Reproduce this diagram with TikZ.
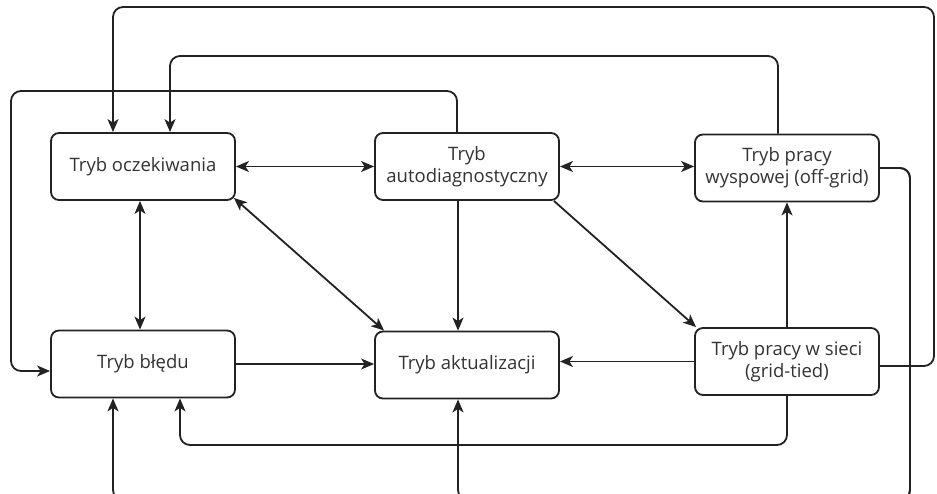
\documentclass[tikz,border=0pt]{standalone}
\usepackage{fontspec}
\setmainfont{Open Sans}
\usetikzlibrary{arrows.meta}
\definecolor{ln}{HTML}{222222}
\definecolor{tx}{HTML}{333333}
\begin{document}
\begin{tikzpicture}[x=1pt,y=-1pt,
  state/.style={draw=ln, line width=1.8pt, rounded corners=8pt, minimum width=184pt, minimum height=67pt, inner sep=0pt, align=center, text=tx, font=\fontsize{18.5}{22}\selectfont},
  arr/.style={draw=ln, line width=1.8pt, -{Stealth[length=13pt,width=11pt,inset=3.5pt]}},
  darr/.style={draw=ln, line width=1.8pt, {Stealth[length=13pt,width=11pt,inset=3.5pt]}-{Stealth[length=13pt,width=11pt,inset=3.5pt]}},
  loop/.style={arr, rounded corners=10pt}]
\useasboundingbox (0,0) rectangle (937,494);
\clip (0,0) rectangle (937,494);
\fill[white] (0,0) rectangle (937,494);

\node[state] (oc) at (143,166.5) {Tryb oczekiwania};
\node[state] (ad) at (467,166.5) {Tryb\\autodiagnostyczny};
\node[state] (og) at (787,168) {Tryb pracy\\wyspowej (off-grid)};
\node[state] (bl) at (143,364) {Tryb błędu};
\node[state] (ak) at (467,365) {Tryb aktualizacji};
\node[state] (gt) at (787,361.5) {Tryb pracy w sieci\\(grid-tied)};

% straight connectors
\draw[darr] (oc.east) -- (ad.west);
\draw[darr] (ad.east) -- (ad.east -| og.west);
\draw[darr] ([xshift=-3pt]oc.south) -- ([xshift=-3pt]bl.north);
\draw[darr] ([xshift=-2pt,yshift=3pt]oc.south east) -- ([xshift=10pt]ak.north west);
\draw[arr] ([xshift=-9pt]ad.south) -- ([xshift=-9pt]ak.north);
\draw[arr] ([xshift=-6pt]ad.south east) -- ([xshift=2pt]gt.north west);
\draw[arr] (gt.north) -- (og.south);
\draw[arr] (gt.west) -- (gt.west -| ak.east);
\draw[arr] (bl.east) -- (bl.east -| ak.west);

% routed connectors
\draw[loop] ([yshift=-4.5pt]gt.east) -- (934,366) -- (934,7) -- (113,7) -- ([xshift=-30pt]oc.north);
\draw[loop] ([xshift=-9pt]og.north) -- (778,56) -- (170,56) -- ([xshift=27pt]oc.north);
\draw[loop] ([xshift=-10pt]ad.north) -- (457,91) -- (11,91) -- (11,371) -- ([yshift=-7pt]bl.west);
\draw[loop] (gt.south) -- (787,445) -- (180,445) -- ([xshift=37pt]bl.south);
\draw[loop] (og.east) -- (910,168) -- (910,500) -- (113,500) -- ([xshift=-30pt]bl.south);
\draw[loop] (og.east) -- (910,168) -- (910,500) -- (458,500) -- ([xshift=-9pt]ak.south);
\end{tikzpicture}
\end{document}
